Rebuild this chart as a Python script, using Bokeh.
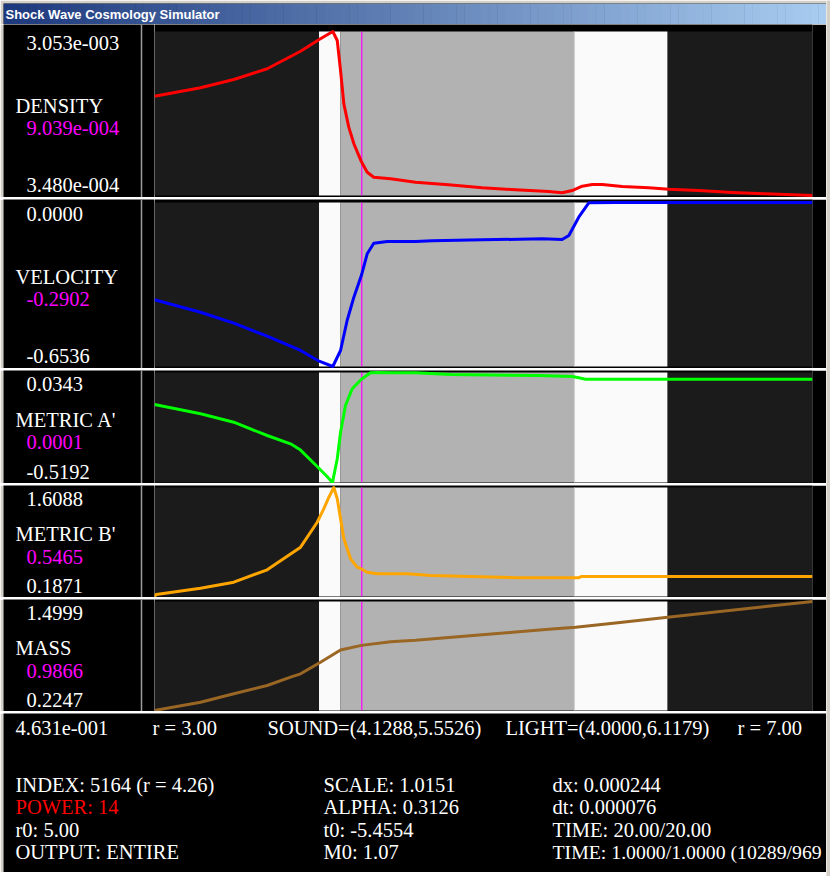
import numpy as np
from bokeh.plotting import figure
from bokeh.layouts import column, row
from bokeh.models import Range1d, Span
from bokeh.core.properties import value
from bokeh.embed import file_html
from bokeh.resources import INLINE

# ---------------- data ----------------
R_MIN, R_MAX = 3.00, 7.00
SOUND = [4.1288, 5.5526]
LIGHT = [4.0000, 6.1179]
INDEX_R = 4.26           # INDEX 5164 (r = 4.26)

density_r = [3.000, 3.280, 3.482, 3.685, 3.888, 4.001, 4.084, 4.111, 4.131, 4.151, 4.181, 4.212,
             4.258, 4.293, 4.333, 4.435, 4.587, 4.787, 4.992, 5.195, 5.397, 5.478, 5.539, 5.600,
             5.661, 5.722, 5.843, 6.005, 6.127, 6.309, 6.512, 6.714, 7.000]
density_v = [1.986e-3, 2.124e-3, 2.261e-3, 2.438e-3, 2.728e-3, 2.921e-3, 3.053e-3, 2.905e-3,
             2.410e-3, 1.860e-3, 1.475e-3, 1.201e-3, 9.039e-4, 7.32e-4, 6.50e-4, 6.23e-4,
             5.67e-4, 5.25e-4, 4.75e-4, 4.42e-4, 4.14e-4, 3.93e-4, 4.30e-4, 5.01e-4, 5.29e-4,
             5.29e-4, 4.96e-4, 4.75e-4, 4.52e-4, 4.30e-4, 3.97e-4, 3.76e-4, 3.480e-4]

velocity_r = [3.000, 3.280, 3.482, 3.685, 3.888, 4.001, 4.084, 4.131, 4.171, 4.212, 4.258, 4.293,
              4.333, 4.415, 4.587, 4.688, 4.992, 5.357, 5.478, 5.519, 5.579, 5.640, 5.802, 7.000]
velocity_v = [-0.3878, -0.4372, -0.4810, -0.5328, -0.5898, -0.6325, -0.6536, -0.5898, -0.4703,
              -0.3774, -0.2902, -0.2044, -0.1622, -0.1554, -0.1554, -0.1526, -0.1487, -0.1447,
              -0.1475, -0.1315, -0.0586, -0.0012, -0.0003, 0.0000]

metric_a_r = [3.000, 3.280, 3.482, 3.685, 3.827, 3.888, 3.989, 4.049, 4.082, 4.111, 4.131, 4.161,
              4.202, 4.258, 4.313, 4.354, 4.435, 4.587, 4.799, 5.336, 5.539, 5.579, 5.620, 7.000]
metric_a_v = [-0.1267, -0.1735, -0.2158, -0.2827, -0.3245, -0.3560, -0.4387, -0.4890, -0.5192,
              -0.3999, -0.2661, -0.1318, -0.0477, 0.0001, 0.0328, 0.0343, 0.0335, 0.0328, 0.0242,
              0.0192, 0.0142, 0.0076, 0.0006, 0.0006]

metric_b_r = [3.000, 3.010, 3.280, 3.482, 3.685, 3.888, 3.989, 4.029, 4.060, 4.090, 4.111, 4.131,
              4.151, 4.192, 4.232, 4.258, 4.293, 4.354, 4.536, 4.678, 4.860, 5.215, 5.578, 5.596,
              7.000]
metric_b_v = [0.1871, 0.2132, 0.2954, 0.3736, 0.5354, 0.8301, 1.1560, 1.3310, 1.4820, 1.6088,
              1.4614, 1.2005, 0.9397, 0.6788, 0.5693, 0.5465, 0.5040, 0.4832, 0.4832, 0.4610,
              0.4519, 0.4310, 0.4310, 0.4480, 0.4480]

mass_r = [3.000, 3.280, 3.482, 3.685, 3.827, 3.888, 4.009, 4.131, 4.258, 4.435, 4.587, 4.789,
          4.992, 5.195, 5.397, 5.560, 5.802, 6.106, 6.410, 6.714, 7.000]
mass_v = [0.2247, 0.3218, 0.4201, 0.5172, 0.6143, 0.6541, 0.7898, 0.9325, 0.9866, 1.0284, 1.0460,
          1.0787, 1.1103, 1.1431, 1.1747, 1.1992, 1.2495, 1.3127, 1.3770, 1.4402, 1.4999]

panel_names = ["DENSITY", "VELOCITY", "METRIC A'", "METRIC B'", "MASS"]
panel_r = [density_r, velocity_r, metric_a_r, metric_b_r, mass_r]
panel_v = [density_v, velocity_v, metric_a_v, metric_b_v, mass_v]
panel_current = [9.039e-4, -0.2902, 0.0001, 0.5465, 0.9866]
panel_sci = [True, False, False, False, False]
panel_colors = ["#ff0000", "#0000ff", "#00ff00", "#ffa500", "#9a6624"]

readout_value = 4.631e-1
info_left = ["INDEX: 5164 (r = 4.26)", "POWER: 14", "r0: 5.00", "OUTPUT: ENTIRE"]
info_left_colors = ["white", "#ff0000", "white", "white"]
info_mid = ["SCALE: 1.0151", "ALPHA: 0.3126", "t0: -5.4554", "M0: 1.07"]
info_right = ["dx: 0.000244", "dt: 0.000076", "TIME: 20.00/20.00"]
info_right_last = "TIME: 1.0000/1.0000 (10289/969"

TITLE = "Shock Wave Cosmology Simulator"

# ---------------- geometry / style (window pixels) ----------------
WIN_W, WIN_H = 830, 876
RIGHT_BORDER = 4
INNER_W = WIN_W - RIGHT_BORDER      # 826
LEFT_BORDER = 3
TOP_BORDER = 3
LABEL_RIGHT = 154                   # left edge of the plot area
PLOT_W = 658
TITLE_H = 24
SEP_H = 2
BOTTOM_TOP, BOTTOM_BOT = 713, 872
# (row top, plot top, plot bottom, row bottom)
PANEL_ROWS = [(24, 31, 195, 197), (199, 202, 366, 368), (370, 372, 482, 483),
              (485, 487, 596, 597), (599, 601, 710, 711)]

DARK = "#1b1b1b"
LIGHTBAND = "#fafafa"
SOUNDBAND = "#b2b2b2"
SEP_COLOR = "#9c9c9c"
FRAME_COLOR = "#d4d0c8"
SERIF = value("Liberation Serif")
FSZ = 20.5
FS = f"{FSZ}px"
SHIFT = 0.375 * FSZ          # svg text sits this far below the requested baseline


def fmt_sci(v):
    m, e = f"{v:.3e}".split("e")
    return f"{m}e{int(e):+04d}"


def fmt_val(v, sci):
    if sci:
        return fmt_sci(v)
    s = f"{v:.4f}"
    return "0.0000" if s == "-0.0000" else s


def blank(width, height, xr, yr, bg="black", border=None):
    p = figure(width=width, height=height, x_range=xr, y_range=yr,
               output_backend="svg", toolbar_location=None,
               x_axis_location=None, y_axis_location=None, min_border=0)
    p.grid.visible = False
    p.background_fill_color = bg
    p.border_fill_color = border if border else bg
    p.outline_line_color = None
    return p


def texts(p, xs, ys, ts, colors="white", size=FSZ):
    p.text(x=xs, y=[y - 0.375 * size for y in ys], text=ts, text_color=colors,
           text_font=SERIF, text_font_size=f"{size}px", text_baseline="alphabetic")


# ---------------- title bar ----------------
title = blank(INNER_W, TITLE_H, Range1d(LEFT_BORDER, INNER_W), Range1d(TITLE_H, TOP_BORDER),
              border=FRAME_COLOR)
title.min_border_left = LEFT_BORDER
title.min_border_top = TOP_BORDER
N = 100
c0 = np.array([30, 58, 126])
c1 = np.array([168, 204, 240])
span_w = (INNER_W - LEFT_BORDER) / N
lefts = [LEFT_BORDER + span_w * i for i in range(N)]
rights = [LEFT_BORDER + span_w * (i + 1) + 0.5 for i in range(N)]
cols = []
for i in range(N):
    c = c0 + (c1 - c0) * i / (N - 1)
    cols.append("#%02x%02x%02x" % tuple(int(round(x)) for x in c))
title.quad(left=lefts, right=rights, bottom=TITLE_H, top=TOP_BORDER, color=cols, line_color=None)
title.text(x=[5], y=[18.5 - 0.375 * 13], text=[TITLE], text_color="white",
           text_font=value("Liberation Sans"), text_font_style="bold",
           text_font_size="13px", text_baseline="alphabetic")

items = [title]

# ---------------- panels ----------------
for k in range(5):
    rs, vs = panel_r[k], panel_v[k]
    row_top, plot_top, plot_bot, row_bot = PANEL_ROWS[k]
    h = row_bot - row_top
    vmin, vmax = min(vs), max(vs)
    scale = (vmax - vmin) / (plot_bot - plot_top)

    # label column (window pixel coordinates)
    lab = blank(LABEL_RIGHT, h, Range1d(LEFT_BORDER, LABEL_RIGHT), Range1d(row_bot, row_top),
                border=FRAME_COLOR)
    lab.min_border_left = LEFT_BORDER
    mid = (plot_top + plot_bot) / 2
    texts(lab, [26, 15, 26, 26], [plot_top + 19, mid, mid + 22.5, plot_bot - 3],
          [fmt_val(vmax, panel_sci[k]), panel_names[k],
           fmt_val(panel_current[k], panel_sci[k]), fmt_val(vmin, panel_sci[k])],
          colors=["white", "white", "#ff00ff", "white"])
    lab.add_layout(Span(location=141, dimension="height", line_color=SEP_COLOR, line_width=1.5))

    # plot
    p = blank(INNER_W - LABEL_RIGHT, h, Range1d(R_MIN, R_MAX),
              Range1d(vmin - (row_bot - plot_bot) * scale, vmax + (plot_top - row_top) * scale))
    p.min_border_right = INNER_W - LABEL_RIGHT - PLOT_W
    p.quad(left=[R_MIN, LIGHT[1]], right=[LIGHT[0], R_MAX], bottom=vmin, top=vmax,
           color=DARK, line_color=None)
    p.quad(left=[LIGHT[0], SOUND[1]], right=[SOUND[0], LIGHT[1]], bottom=vmin, top=vmax,
           color=LIGHTBAND, line_color=None)
    p.quad(left=[SOUND[0]], right=[SOUND[1]], bottom=vmin, top=vmax,
           color=SOUNDBAND, line_color=None)
    p.segment(x0=[SOUND[1]], x1=[SOUND[1]], y0=[vmin], y1=[vmax],
              line_color="#d6d6d6", line_width=1)
    p.segment(x0=[INDEX_R], x1=[INDEX_R], y0=[vmin], y1=[vmax],
              line_color="#ff00ff", line_width=1.2)
    p.line(rs, vs, line_color=panel_colors[k], line_width=3, line_join="round")

    items.append(row(lab, p, spacing=0))
    sep = blank(INNER_W, SEP_H, Range1d(0, 1), Range1d(0, 1), bg=SEP_COLOR, border=FRAME_COLOR)
    sep.min_border_left = LEFT_BORDER
    items.append(sep)

# ---------------- bottom info area ----------------
bot = blank(INNER_W, BOTTOM_BOT - BOTTOM_TOP, Range1d(LEFT_BORDER, INNER_W),
            Range1d(BOTTOM_BOT, BOTTOM_TOP), border=FRAME_COLOR)
bot.min_border_left = LEFT_BORDER
row_a = [fmt_sci(readout_value), f"r = {R_MIN:.2f}",
         f"SOUND=({SOUND[0]:.4f},{SOUND[1]:.4f})",
         f"LIGHT=({LIGHT[0]:.4f},{LIGHT[1]:.4f})", f"r = {R_MAX:.2f}"]
texts(bot, [15, 152, 267, 505, 737], [735] * 5, row_a)
ys = [791.7, 814, 836.7, 859]
texts(bot, [15] * 4, ys, info_left, colors=info_left_colors)
texts(bot, [323] * 4, ys, info_mid)
texts(bot, [552] * 3, ys[:3], info_right)
texts(bot, [552], ys[3:], [info_right_last], size=19.8)
items.append(bot)

bottom_border = blank(INNER_W, WIN_H - BOTTOM_BOT, Range1d(0, 1), Range1d(0, 1), bg=FRAME_COLOR)
items.append(bottom_border)

right_border = blank(RIGHT_BORDER, WIN_H, Range1d(0, 1), Range1d(0, 1), bg=FRAME_COLOR)

layout = row(column(*items, spacing=0), right_border, spacing=0)
open("out.html", "w").write(file_html(layout, INLINE, title=TITLE))
